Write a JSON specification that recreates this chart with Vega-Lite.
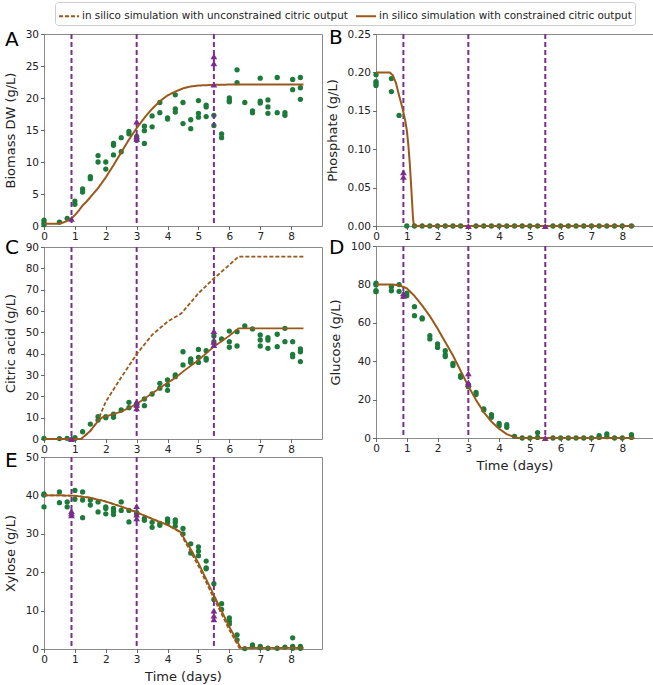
{
  "$schema": "https://vega.github.io/schema/vega-lite/v6.json",
  "autosize": {"type": "pad"},
  "padding": {"left": 3, "top": 1, "right": 0, "bottom": 0},
  "background": "white",
  "config": {
    "font": "DejaVu Sans",
    "view": {"stroke": "#8a8a8a", "strokeWidth": 1},
    "axis": {"domain": false, "grid": false, "tickColor": "#444", "tickSize": 3.5, "tickWidth": 0.8, "labelFont": "DejaVu Sans", "labelFontSize": 10.5, "labelColor": "#222", "labelPadding": 2, "labelOverlap": false, "titleFont": "DejaVu Sans", "titleFontSize": 13, "titleFontWeight": "normal", "titleColor": "#222", "labelFlush": false},
    "axisY": {"titlePadding": 8},
    "axisX": {"titlePadding": 5},
    "title": {"font": "DejaVu Sans", "fontSize": 20, "fontWeight": "normal", "color": "#000", "anchor": "start", "frame": "group", "offset": 0, "baseline": "alphabetic"}
  },
  "datasets": {
    "vl": [{"t": 0.89}, {"t": 3}, {"t": 5.5}],
    "tri": [
      {"p": "A", "t": 0.89, "v": 1.1}, {"p": "A", "t": 3, "v": 16.3}, {"p": "A", "t": 3, "v": 14.0}, {"p": "A", "t": 3, "v": 13.6}, {"p": "A", "t": 5.5, "v": 26.5}, {"p": "A", "t": 5.5, "v": 25.4}, {"p": "A", "t": 5.5, "v": 22.1},
      {"p": "B", "t": 0.89, "v": 0.070}, {"p": "B", "t": 0.89, "v": 0.064}, {"p": "B", "t": 3, "v": 0}, {"p": "B", "t": 5.5, "v": 0},
      {"p": "C", "t": 0.89, "v": 0.3}, {"p": "C", "t": 0.89, "v": 0}, {"p": "C", "t": 3, "v": 17.5}, {"p": "C", "t": 3, "v": 16.0}, {"p": "C", "t": 3, "v": 14.4}, {"p": "C", "t": 5.5, "v": 50.6}, {"p": "C", "t": 5.5, "v": 45.6}, {"p": "C", "t": 5.5, "v": 44.0},
      {"p": "D", "t": 0.89, "v": 75.3}, {"p": "D", "t": 0.89, "v": 74.1}, {"p": "D", "t": 3, "v": 33.7}, {"p": "D", "t": 3, "v": 29.0}, {"p": "D", "t": 3, "v": 28.1}, {"p": "D", "t": 5.5, "v": 0},
      {"p": "E", "t": 0.89, "v": 35.9}, {"p": "E", "t": 0.89, "v": 35.3}, {"p": "E", "t": 0.89, "v": 34.8}, {"p": "E", "t": 3, "v": 37.2}, {"p": "E", "t": 3, "v": 35.0}, {"p": "E", "t": 3, "v": 34.0}, {"p": "E", "t": 5.5, "v": 10.0}, {"p": "E", "t": 5.5, "v": 8.7}, {"p": "E", "t": 5.5, "v": 7.7}
    ],
    "sim": [
      {"p": "A", "s": "in silico simulation with constrained citric output", "t": 0, "v": 0.35},
      {"p": "A", "s": "in silico simulation with constrained citric output", "t": 0.45, "v": 0.35},
      {"p": "A", "s": "in silico simulation with constrained citric output", "t": 0.6, "v": 0.5},
      {"p": "A", "s": "in silico simulation with constrained citric output", "t": 0.75, "v": 0.8},
      {"p": "A", "s": "in silico simulation with constrained citric output", "t": 0.89, "v": 1.2},
      {"p": "A", "s": "in silico simulation with constrained citric output", "t": 1.0, "v": 1.7},
      {"p": "A", "s": "in silico simulation with constrained citric output", "t": 1.125, "v": 2.4},
      {"p": "A", "s": "in silico simulation with constrained citric output", "t": 1.25, "v": 3.2},
      {"p": "A", "s": "in silico simulation with constrained citric output", "t": 1.375, "v": 3.8},
      {"p": "A", "s": "in silico simulation with constrained citric output", "t": 1.5, "v": 4.5},
      {"p": "A", "s": "in silico simulation with constrained citric output", "t": 1.75, "v": 5.9},
      {"p": "A", "s": "in silico simulation with constrained citric output", "t": 2.0, "v": 7.6},
      {"p": "A", "s": "in silico simulation with constrained citric output", "t": 2.25, "v": 9.5},
      {"p": "A", "s": "in silico simulation with constrained citric output", "t": 2.5, "v": 11.5},
      {"p": "A", "s": "in silico simulation with constrained citric output", "t": 2.75, "v": 13.5},
      {"p": "A", "s": "in silico simulation with constrained citric output", "t": 3.0, "v": 15.3},
      {"p": "A", "s": "in silico simulation with constrained citric output", "t": 3.25, "v": 16.9},
      {"p": "A", "s": "in silico simulation with constrained citric output", "t": 3.5, "v": 18.3},
      {"p": "A", "s": "in silico simulation with constrained citric output", "t": 3.75, "v": 19.5},
      {"p": "A", "s": "in silico simulation with constrained citric output", "t": 4.0, "v": 20.4},
      {"p": "A", "s": "in silico simulation with constrained citric output", "t": 4.25, "v": 21.0},
      {"p": "A", "s": "in silico simulation with constrained citric output", "t": 4.5, "v": 21.5},
      {"p": "A", "s": "in silico simulation with constrained citric output", "t": 4.75, "v": 21.8},
      {"p": "A", "s": "in silico simulation with constrained citric output", "t": 5.0, "v": 21.95},
      {"p": "A", "s": "in silico simulation with constrained citric output", "t": 5.5, "v": 22.05},
      {"p": "A", "s": "in silico simulation with constrained citric output", "t": 6.0, "v": 22.1},
      {"p": "A", "s": "in silico simulation with constrained citric output", "t": 8.4, "v": 22.1},
      {"p": "B", "s": "in silico simulation with constrained citric output", "t": 0, "v": 0.2},
      {"p": "B", "s": "in silico simulation with constrained citric output", "t": 0.45, "v": 0.2},
      {"p": "B", "s": "in silico simulation with constrained citric output", "t": 0.55, "v": 0.196},
      {"p": "B", "s": "in silico simulation with constrained citric output", "t": 0.65, "v": 0.186},
      {"p": "B", "s": "in silico simulation with constrained citric output", "t": 0.75, "v": 0.17},
      {"p": "B", "s": "in silico simulation with constrained citric output", "t": 0.85, "v": 0.155},
      {"p": "B", "s": "in silico simulation with constrained citric output", "t": 0.95, "v": 0.137},
      {"p": "B", "s": "in silico simulation with constrained citric output", "t": 1.0, "v": 0.125},
      {"p": "B", "s": "in silico simulation with constrained citric output", "t": 1.05, "v": 0.106},
      {"p": "B", "s": "in silico simulation with constrained citric output", "t": 1.1, "v": 0.08},
      {"p": "B", "s": "in silico simulation with constrained citric output", "t": 1.15, "v": 0.047},
      {"p": "B", "s": "in silico simulation with constrained citric output", "t": 1.2, "v": 0.012},
      {"p": "B", "s": "in silico simulation with constrained citric output", "t": 1.23, "v": 0},
      {"p": "B", "s": "in silico simulation with constrained citric output", "t": 8.4, "v": 0},
      {"p": "C", "s": "in silico simulation with constrained citric output", "t": 0, "v": 0},
      {"p": "C", "s": "in silico simulation with constrained citric output", "t": 1.2, "v": 0},
      {"p": "C", "s": "in silico simulation with constrained citric output", "t": 1.5, "v": 3.8},
      {"p": "C", "s": "in silico simulation with constrained citric output", "t": 1.75, "v": 8.4},
      {"p": "C", "s": "in silico simulation with constrained citric output", "t": 1.9, "v": 10.3},
      {"p": "C", "s": "in silico simulation with constrained citric output", "t": 2.0, "v": 10.6},
      {"p": "C", "s": "in silico simulation with constrained citric output", "t": 2.5, "v": 12.8},
      {"p": "C", "s": "in silico simulation with constrained citric output", "t": 3.0, "v": 16.4},
      {"p": "C", "s": "in silico simulation with constrained citric output", "t": 3.5, "v": 21.4},
      {"p": "C", "s": "in silico simulation with constrained citric output", "t": 4.0, "v": 26.4},
      {"p": "C", "s": "in silico simulation with constrained citric output", "t": 4.25, "v": 28.6},
      {"p": "C", "s": "in silico simulation with constrained citric output", "t": 4.5, "v": 31.6},
      {"p": "C", "s": "in silico simulation with constrained citric output", "t": 5.0, "v": 37.0},
      {"p": "C", "s": "in silico simulation with constrained citric output", "t": 5.5, "v": 43.3},
      {"p": "C", "s": "in silico simulation with constrained citric output", "t": 6.0, "v": 48.4},
      {"p": "C", "s": "in silico simulation with constrained citric output", "t": 6.3, "v": 51.9},
      {"p": "C", "s": "in silico simulation with constrained citric output", "t": 8.4, "v": 51.9},
      {"p": "C", "s": "in silico simulation with unconstrained citric output", "t": 0, "v": 0},
      {"p": "C", "s": "in silico simulation with unconstrained citric output", "t": 1.2, "v": 0},
      {"p": "C", "s": "in silico simulation with unconstrained citric output", "t": 1.5, "v": 3.7},
      {"p": "C", "s": "in silico simulation with unconstrained citric output", "t": 1.75, "v": 8.9},
      {"p": "C", "s": "in silico simulation with unconstrained citric output", "t": 2.0, "v": 17.5},
      {"p": "C", "s": "in silico simulation with unconstrained citric output", "t": 2.5, "v": 28.9},
      {"p": "C", "s": "in silico simulation with unconstrained citric output", "t": 3.0, "v": 39.8},
      {"p": "C", "s": "in silico simulation with unconstrained citric output", "t": 3.5, "v": 48.8},
      {"p": "C", "s": "in silico simulation with unconstrained citric output", "t": 4.0, "v": 55.0},
      {"p": "C", "s": "in silico simulation with unconstrained citric output", "t": 4.45, "v": 58.9},
      {"p": "C", "s": "in silico simulation with unconstrained citric output", "t": 5.0, "v": 68.3},
      {"p": "C", "s": "in silico simulation with unconstrained citric output", "t": 5.5, "v": 75.3},
      {"p": "C", "s": "in silico simulation with unconstrained citric output", "t": 6.0, "v": 81.6},
      {"p": "C", "s": "in silico simulation with unconstrained citric output", "t": 6.3, "v": 85.5},
      {"p": "C", "s": "in silico simulation with unconstrained citric output", "t": 8.4, "v": 85.5},
      {"p": "D", "s": "in silico simulation with constrained citric output", "t": 0, "v": 80},
      {"p": "D", "s": "in silico simulation with constrained citric output", "t": 0.5, "v": 80},
      {"p": "D", "s": "in silico simulation with constrained citric output", "t": 0.75, "v": 79.5},
      {"p": "D", "s": "in silico simulation with constrained citric output", "t": 1.0, "v": 78},
      {"p": "D", "s": "in silico simulation with constrained citric output", "t": 1.25, "v": 74},
      {"p": "D", "s": "in silico simulation with constrained citric output", "t": 1.5, "v": 69},
      {"p": "D", "s": "in silico simulation with constrained citric output", "t": 1.75, "v": 63.5},
      {"p": "D", "s": "in silico simulation with constrained citric output", "t": 2.0, "v": 57},
      {"p": "D", "s": "in silico simulation with constrained citric output", "t": 2.25, "v": 50},
      {"p": "D", "s": "in silico simulation with constrained citric output", "t": 2.5, "v": 43},
      {"p": "D", "s": "in silico simulation with constrained citric output", "t": 2.75, "v": 35},
      {"p": "D", "s": "in silico simulation with constrained citric output", "t": 3.0, "v": 27},
      {"p": "D", "s": "in silico simulation with constrained citric output", "t": 3.25, "v": 19.8},
      {"p": "D", "s": "in silico simulation with constrained citric output", "t": 3.5, "v": 13.5},
      {"p": "D", "s": "in silico simulation with constrained citric output", "t": 3.75, "v": 8.5},
      {"p": "D", "s": "in silico simulation with constrained citric output", "t": 4.0, "v": 4.8},
      {"p": "D", "s": "in silico simulation with constrained citric output", "t": 4.25, "v": 2.0},
      {"p": "D", "s": "in silico simulation with constrained citric output", "t": 4.5, "v": 0.4},
      {"p": "D", "s": "in silico simulation with constrained citric output", "t": 4.6, "v": 0},
      {"p": "D", "s": "in silico simulation with constrained citric output", "t": 8.4, "v": 0},
      {"p": "E", "s": "in silico simulation with unconstrained citric output", "t": 0, "v": 40},
      {"p": "E", "s": "in silico simulation with unconstrained citric output", "t": 0.5, "v": 40},
      {"p": "E", "s": "in silico simulation with unconstrained citric output", "t": 1.0, "v": 39.9},
      {"p": "E", "s": "in silico simulation with unconstrained citric output", "t": 1.5, "v": 39.4},
      {"p": "E", "s": "in silico simulation with unconstrained citric output", "t": 2.0, "v": 38.4},
      {"p": "E", "s": "in silico simulation with unconstrained citric output", "t": 2.5, "v": 37.1},
      {"p": "E", "s": "in silico simulation with unconstrained citric output", "t": 3.0, "v": 35.6},
      {"p": "E", "s": "in silico simulation with unconstrained citric output", "t": 3.5, "v": 33.9},
      {"p": "E", "s": "in silico simulation with unconstrained citric output", "t": 4.0, "v": 32.3},
      {"p": "E", "s": "in silico simulation with unconstrained citric output", "t": 4.4, "v": 30.4},
      {"p": "E", "s": "in silico simulation with unconstrained citric output", "t": 4.75, "v": 25.3},
      {"p": "E", "s": "in silico simulation with unconstrained citric output", "t": 5.0, "v": 21.6},
      {"p": "E", "s": "in silico simulation with unconstrained citric output", "t": 5.5, "v": 13.2},
      {"p": "E", "s": "in silico simulation with unconstrained citric output", "t": 6.0, "v": 5.0},
      {"p": "E", "s": "in silico simulation with unconstrained citric output", "t": 6.32, "v": 0.3},
      {"p": "E", "s": "in silico simulation with unconstrained citric output", "t": 8.4, "v": 0.3},
      {"p": "E", "s": "in silico simulation with constrained citric output", "t": 0, "v": 40},
      {"p": "E", "s": "in silico simulation with constrained citric output", "t": 0.5, "v": 40},
      {"p": "E", "s": "in silico simulation with constrained citric output", "t": 1.0, "v": 39.9},
      {"p": "E", "s": "in silico simulation with constrained citric output", "t": 1.5, "v": 39.4},
      {"p": "E", "s": "in silico simulation with constrained citric output", "t": 2.0, "v": 38.4},
      {"p": "E", "s": "in silico simulation with constrained citric output", "t": 2.5, "v": 37.1},
      {"p": "E", "s": "in silico simulation with constrained citric output", "t": 3.0, "v": 35.6},
      {"p": "E", "s": "in silico simulation with constrained citric output", "t": 3.5, "v": 33.9},
      {"p": "E", "s": "in silico simulation with constrained citric output", "t": 4.0, "v": 32.3},
      {"p": "E", "s": "in silico simulation with constrained citric output", "t": 4.4, "v": 30.6},
      {"p": "E", "s": "in silico simulation with constrained citric output", "t": 4.75, "v": 26.0},
      {"p": "E", "s": "in silico simulation with constrained citric output", "t": 5.0, "v": 22.4},
      {"p": "E", "s": "in silico simulation with constrained citric output", "t": 5.5, "v": 14.0},
      {"p": "E", "s": "in silico simulation with constrained citric output", "t": 6.0, "v": 5.8},
      {"p": "E", "s": "in silico simulation with constrained citric output", "t": 6.37, "v": 0.3},
      {"p": "E", "s": "in silico simulation with constrained citric output", "t": 8.4, "v": 0.3}
    ],
    "pts": [
      {"p": "A", "t": 0, "v": 0.2}, {"p": "A", "t": 0, "v": 0.5}, {"p": "A", "t": 0, "v": 0.9}, {"p": "A", "t": 0.5, "v": 0.6}, {"p": "A", "t": 0.75, "v": 1.2},
      {"p": "A", "t": 1.0, "v": 3.9}, {"p": "A", "t": 1.0, "v": 3.4}, {"p": "A", "t": 1.25, "v": 5.8}, {"p": "A", "t": 1.25, "v": 5.3}, {"p": "A", "t": 1.5, "v": 7.7}, {"p": "A", "t": 1.5, "v": 7.4},
      {"p": "A", "t": 1.75, "v": 11.0}, {"p": "A", "t": 1.75, "v": 10.0}, {"p": "A", "t": 2.0, "v": 10.0}, {"p": "A", "t": 2.0, "v": 8.9}, {"p": "A", "t": 2.25, "v": 12.9}, {"p": "A", "t": 2.25, "v": 12.6}, {"p": "A", "t": 2.25, "v": 11.1},
      {"p": "A", "t": 2.5, "v": 13.8}, {"p": "A", "t": 2.5, "v": 11.6}, {"p": "A", "t": 2.75, "v": 14.8}, {"p": "A", "t": 2.75, "v": 14.4}, {"p": "A", "t": 3.0, "v": 14.0}, {"p": "A", "t": 3.0, "v": 13.4},
      {"p": "A", "t": 3.25, "v": 15.6}, {"p": "A", "t": 3.25, "v": 14.9}, {"p": "A", "t": 3.25, "v": 12.9}, {"p": "A", "t": 3.5, "v": 17.2}, {"p": "A", "t": 3.5, "v": 15.5}, {"p": "A", "t": 3.75, "v": 19.3}, {"p": "A", "t": 3.75, "v": 17.7},
      {"p": "A", "t": 4.0, "v": 16.9}, {"p": "A", "t": 4.0, "v": 16.7}, {"p": "A", "t": 4.25, "v": 20.5}, {"p": "A", "t": 4.25, "v": 18.3}, {"p": "A", "t": 4.25, "v": 17.8}, {"p": "A", "t": 4.5, "v": 19.3}, {"p": "A", "t": 4.5, "v": 16.0},
      {"p": "A", "t": 4.75, "v": 16.6}, {"p": "A", "t": 4.75, "v": 15.2}, {"p": "A", "t": 5.0, "v": 19.6}, {"p": "A", "t": 5.0, "v": 17.6}, {"p": "A", "t": 5.0, "v": 17.0}, {"p": "A", "t": 5.25, "v": 18.9}, {"p": "A", "t": 5.25, "v": 18.6}, {"p": "A", "t": 5.25, "v": 17.1},
      {"p": "A", "t": 5.5, "v": 17.3}, {"p": "A", "t": 5.5, "v": 15.7}, {"p": "A", "t": 5.75, "v": 14.4}, {"p": "A", "t": 5.75, "v": 13.8}, {"p": "A", "t": 6.0, "v": 20.0}, {"p": "A", "t": 6.0, "v": 19.6}, {"p": "A", "t": 6.0, "v": 19.4},
      {"p": "A", "t": 6.25, "v": 24.4}, {"p": "A", "t": 6.25, "v": 22.4}, {"p": "A", "t": 6.5, "v": 19.3}, {"p": "A", "t": 6.75, "v": 18.0}, {"p": "A", "t": 6.75, "v": 17.7}, {"p": "A", "t": 7.0, "v": 23.1}, {"p": "A", "t": 7.0, "v": 19.5}, {"p": "A", "t": 7.0, "v": 19.2},
      {"p": "A", "t": 7.25, "v": 19.7}, {"p": "A", "t": 7.25, "v": 18.6}, {"p": "A", "t": 7.25, "v": 17.6}, {"p": "A", "t": 7.55, "v": 23.2}, {"p": "A", "t": 7.55, "v": 17.7}, {"p": "A", "t": 7.8, "v": 17.7}, {"p": "A", "t": 7.8, "v": 17.3},
      {"p": "A", "t": 8.05, "v": 22.9}, {"p": "A", "t": 8.05, "v": 21.3}, {"p": "A", "t": 8.3, "v": 23.2}, {"p": "A", "t": 8.3, "v": 21.6}, {"p": "A", "t": 8.3, "v": 19.8},
      {"p": "B", "t": 0, "v": 0.197}, {"p": "B", "t": 0, "v": 0.188}, {"p": "B", "t": 0, "v": 0.186}, {"p": "B", "t": 0, "v": 0.183}, {"p": "B", "t": 0.5, "v": 0.192}, {"p": "B", "t": 0.5, "v": 0.175}, {"p": "B", "t": 0.75, "v": 0.144},
      {"p": "B", "t": 1.0, "v": 0}, {"p": "B", "t": 1.25, "v": 0}, {"p": "B", "t": 1.5, "v": 0}, {"p": "B", "t": 1.75, "v": 0}, {"p": "B", "t": 2.0, "v": 0}, {"p": "B", "t": 2.25, "v": 0}, {"p": "B", "t": 2.5, "v": 0}, {"p": "B", "t": 2.75, "v": 0},
      {"p": "B", "t": 3.25, "v": 0}, {"p": "B", "t": 3.5, "v": 0}, {"p": "B", "t": 3.75, "v": 0}, {"p": "B", "t": 4.0, "v": 0}, {"p": "B", "t": 4.25, "v": 0}, {"p": "B", "t": 4.5, "v": 0}, {"p": "B", "t": 4.75, "v": 0}, {"p": "B", "t": 5.0, "v": 0}, {"p": "B", "t": 5.25, "v": 0},
      {"p": "B", "t": 5.75, "v": 0}, {"p": "B", "t": 6.0, "v": 0}, {"p": "B", "t": 6.25, "v": 0}, {"p": "B", "t": 6.5, "v": 0}, {"p": "B", "t": 6.75, "v": 0}, {"p": "B", "t": 7.0, "v": 0}, {"p": "B", "t": 7.25, "v": 0}, {"p": "B", "t": 7.5, "v": 0}, {"p": "B", "t": 7.75, "v": 0}, {"p": "B", "t": 8.0, "v": 0}, {"p": "B", "t": 8.3, "v": 0},
      {"p": "C", "t": 0, "v": 0.3}, {"p": "C", "t": 0.5, "v": 0.2}, {"p": "C", "t": 0.75, "v": 0.3}, {"p": "C", "t": 1.0, "v": 0.6}, {"p": "C", "t": 1.0, "v": 0.2}, {"p": "C", "t": 1.25, "v": 3.4}, {"p": "C", "t": 1.5, "v": 7.0},
      {"p": "C", "t": 1.75, "v": 10.5}, {"p": "C", "t": 1.75, "v": 8.9}, {"p": "C", "t": 2.0, "v": 10.5}, {"p": "C", "t": 2.0, "v": 10.0}, {"p": "C", "t": 2.25, "v": 11.6}, {"p": "C", "t": 2.25, "v": 10.2}, {"p": "C", "t": 2.5, "v": 13.6},
      {"p": "C", "t": 2.75, "v": 17.2}, {"p": "C", "t": 2.75, "v": 14.7}, {"p": "C", "t": 3.0, "v": 16.3}, {"p": "C", "t": 3.0, "v": 15.6}, {"p": "C", "t": 3.25, "v": 18.8}, {"p": "C", "t": 3.25, "v": 15.6}, {"p": "C", "t": 3.5, "v": 21.1},
      {"p": "C", "t": 3.75, "v": 26.1}, {"p": "C", "t": 3.75, "v": 23.8}, {"p": "C", "t": 4.0, "v": 27.7}, {"p": "C", "t": 4.0, "v": 25.3}, {"p": "C", "t": 4.0, "v": 22.8}, {"p": "C", "t": 4.25, "v": 30.0}, {"p": "C", "t": 4.25, "v": 29.2},
      {"p": "C", "t": 4.5, "v": 40.9}, {"p": "C", "t": 4.5, "v": 34.7}, {"p": "C", "t": 4.75, "v": 37.5}, {"p": "C", "t": 4.75, "v": 36.6}, {"p": "C", "t": 4.75, "v": 35.9}, {"p": "C", "t": 5.0, "v": 42.0}, {"p": "C", "t": 5.0, "v": 38.3}, {"p": "C", "t": 5.0, "v": 35.9},
      {"p": "C", "t": 5.25, "v": 41.4}, {"p": "C", "t": 5.25, "v": 37.8}, {"p": "C", "t": 5.25, "v": 37.0}, {"p": "C", "t": 5.5, "v": 48.3}, {"p": "C", "t": 5.5, "v": 45.6}, {"p": "C", "t": 5.75, "v": 46.9},
      {"p": "C", "t": 6.0, "v": 50.6}, {"p": "C", "t": 6.0, "v": 45.6}, {"p": "C", "t": 6.0, "v": 43.0}, {"p": "C", "t": 6.25, "v": 50.3}, {"p": "C", "t": 6.25, "v": 43.6}, {"p": "C", "t": 6.5, "v": 53.0}, {"p": "C", "t": 6.75, "v": 51.6},
      {"p": "C", "t": 7.0, "v": 48.8}, {"p": "C", "t": 7.0, "v": 46.4}, {"p": "C", "t": 7.0, "v": 43.6}, {"p": "C", "t": 7.25, "v": 47.5}, {"p": "C", "t": 7.25, "v": 46.4}, {"p": "C", "t": 7.25, "v": 42.5}, {"p": "C", "t": 7.55, "v": 49.1}, {"p": "C", "t": 7.55, "v": 43.3},
      {"p": "C", "t": 7.8, "v": 51.9}, {"p": "C", "t": 7.8, "v": 45.6}, {"p": "C", "t": 8.05, "v": 45.6}, {"p": "C", "t": 8.05, "v": 39.7}, {"p": "C", "t": 8.05, "v": 38.6}, {"p": "C", "t": 8.3, "v": 42.2}, {"p": "C", "t": 8.3, "v": 40.9}, {"p": "C", "t": 8.3, "v": 36.3},
      {"p": "D", "t": 0, "v": 80.6}, {"p": "D", "t": 0, "v": 79.7}, {"p": "D", "t": 0, "v": 76.7}, {"p": "D", "t": 0, "v": 76.2}, {"p": "D", "t": 0.5, "v": 78.8}, {"p": "D", "t": 0.5, "v": 76.7}, {"p": "D", "t": 0.75, "v": 79.9}, {"p": "D", "t": 0.75, "v": 76.4},
      {"p": "D", "t": 1.0, "v": 75.5}, {"p": "D", "t": 1.0, "v": 74.1}, {"p": "D", "t": 1.25, "v": 68.4}, {"p": "D", "t": 1.25, "v": 63.7}, {"p": "D", "t": 1.5, "v": 62.5}, {"p": "D", "t": 1.5, "v": 62.0}, {"p": "D", "t": 1.75, "v": 53.3}, {"p": "D", "t": 1.75, "v": 51.6},
      {"p": "D", "t": 2.0, "v": 49.0}, {"p": "D", "t": 2.0, "v": 47.2}, {"p": "D", "t": 2.25, "v": 45.5}, {"p": "D", "t": 2.25, "v": 43.4}, {"p": "D", "t": 2.25, "v": 42.4}, {"p": "D", "t": 2.5, "v": 38.9}, {"p": "D", "t": 2.5, "v": 37.7},
      {"p": "D", "t": 2.75, "v": 32.5}, {"p": "D", "t": 2.75, "v": 31.6}, {"p": "D", "t": 3.0, "v": 27.8}, {"p": "D", "t": 3.0, "v": 26.7}, {"p": "D", "t": 3.25, "v": 23.8}, {"p": "D", "t": 3.25, "v": 22.6}, {"p": "D", "t": 3.5, "v": 15.1}, {"p": "D", "t": 3.5, "v": 14.6},
      {"p": "D", "t": 3.75, "v": 12.2}, {"p": "D", "t": 3.75, "v": 10.8}, {"p": "D", "t": 4.0, "v": 7.6}, {"p": "D", "t": 4.0, "v": 6.4}, {"p": "D", "t": 4.25, "v": 6.9}, {"p": "D", "t": 4.25, "v": 5.6}, {"p": "D", "t": 4.5, "v": 0.9},
      {"p": "D", "t": 4.75, "v": 0}, {"p": "D", "t": 5.0, "v": 0}, {"p": "D", "t": 5.25, "v": 2.8}, {"p": "D", "t": 5.25, "v": 0.3}, {"p": "D", "t": 5.75, "v": 0}, {"p": "D", "t": 6.0, "v": 0}, {"p": "D", "t": 6.25, "v": 0}, {"p": "D", "t": 6.5, "v": 0}, {"p": "D", "t": 6.75, "v": 0}, {"p": "D", "t": 7.0, "v": 0},
      {"p": "D", "t": 7.25, "v": 1.2}, {"p": "D", "t": 7.25, "v": 0.3}, {"p": "D", "t": 7.5, "v": 2.1}, {"p": "D", "t": 7.5, "v": 0.7}, {"p": "D", "t": 7.75, "v": 0}, {"p": "D", "t": 8.0, "v": 0}, {"p": "D", "t": 8.3, "v": 1.7}, {"p": "D", "t": 8.3, "v": 0.3},
      {"p": "E", "t": 0, "v": 40.4}, {"p": "E", "t": 0, "v": 40.1}, {"p": "E", "t": 0, "v": 37.0}, {"p": "E", "t": 0.5, "v": 40.9}, {"p": "E", "t": 0.5, "v": 38.1}, {"p": "E", "t": 0.75, "v": 38.3}, {"p": "E", "t": 0.75, "v": 37.0},
      {"p": "E", "t": 1.0, "v": 41.3}, {"p": "E", "t": 1.0, "v": 39.0}, {"p": "E", "t": 1.25, "v": 40.9}, {"p": "E", "t": 1.25, "v": 38.8}, {"p": "E", "t": 1.25, "v": 34.2}, {"p": "E", "t": 1.5, "v": 38.8}, {"p": "E", "t": 1.5, "v": 37.5},
      {"p": "E", "t": 1.75, "v": 38.3}, {"p": "E", "t": 1.75, "v": 35.7}, {"p": "E", "t": 2.0, "v": 37.0}, {"p": "E", "t": 2.0, "v": 36.6}, {"p": "E", "t": 2.0, "v": 35.2}, {"p": "E", "t": 2.25, "v": 36.6}, {"p": "E", "t": 2.25, "v": 35.9}, {"p": "E", "t": 2.25, "v": 35.0},
      {"p": "E", "t": 2.5, "v": 38.3}, {"p": "E", "t": 2.5, "v": 36.1}, {"p": "E", "t": 2.75, "v": 36.1}, {"p": "E", "t": 2.75, "v": 33.1}, {"p": "E", "t": 3.0, "v": 35.5}, {"p": "E", "t": 3.0, "v": 35.2}, {"p": "E", "t": 3.25, "v": 34.0}, {"p": "E", "t": 3.25, "v": 33.5},
      {"p": "E", "t": 3.5, "v": 33.0}, {"p": "E", "t": 3.5, "v": 31.7}, {"p": "E", "t": 3.75, "v": 32.7}, {"p": "E", "t": 3.75, "v": 32.2}, {"p": "E", "t": 4.0, "v": 33.9}, {"p": "E", "t": 4.0, "v": 33.5}, {"p": "E", "t": 4.0, "v": 32.9},
      {"p": "E", "t": 4.25, "v": 33.6}, {"p": "E", "t": 4.25, "v": 33.0}, {"p": "E", "t": 4.25, "v": 32.0}, {"p": "E", "t": 4.5, "v": 31.4}, {"p": "E", "t": 4.5, "v": 30.0}, {"p": "E", "t": 4.75, "v": 27.4}, {"p": "E", "t": 4.75, "v": 25.0},
      {"p": "E", "t": 5.0, "v": 26.6}, {"p": "E", "t": 5.0, "v": 25.5}, {"p": "E", "t": 5.0, "v": 24.3}, {"p": "E", "t": 5.25, "v": 22.9}, {"p": "E", "t": 5.25, "v": 21.1}, {"p": "E", "t": 5.25, "v": 20.9}, {"p": "E", "t": 5.5, "v": 17.0}, {"p": "E", "t": 5.5, "v": 12.9},
      {"p": "E", "t": 5.75, "v": 11.8}, {"p": "E", "t": 5.75, "v": 10.3}, {"p": "E", "t": 6.0, "v": 8.1}, {"p": "E", "t": 6.0, "v": 7.2}, {"p": "E", "t": 6.0, "v": 6.5}, {"p": "E", "t": 6.25, "v": 3.7}, {"p": "E", "t": 6.25, "v": 2.4}, {"p": "E", "t": 6.5, "v": 0.1},
      {"p": "E", "t": 6.75, "v": 1.1}, {"p": "E", "t": 6.75, "v": 0.7}, {"p": "E", "t": 7.0, "v": 0.7}, {"p": "E", "t": 7.0, "v": 0.3}, {"p": "E", "t": 7.25, "v": 0.2}, {"p": "E", "t": 7.55, "v": 0.2}, {"p": "E", "t": 7.8, "v": 0.5},
      {"p": "E", "t": 8.05, "v": 2.9}, {"p": "E", "t": 8.05, "v": 0.7}, {"p": "E", "t": 8.05, "v": 0.2}, {"p": "E", "t": 8.3, "v": 0.7}, {"p": "E", "t": 8.3, "v": 0.2}
    ]
  },
  "spacing": 2,
  "hconcat": [
    {
      "spacing": -6,
      "vconcat": [
        {
          "width": 278, "height": 192,
          "title": {"text": "A", "dx": -39, "dy": 25},
          "encoding": {"x": {"field": "t", "type": "quantitative", "scale": {"domain": [0, 9]}, "axis": {"values": [0, 1, 2, 3, 4, 5, 6, 7, 8], "title": null}}},
          "layer": [
            {"data": {"name": "pts"}, "transform": [{"filter": "datum.p == 'A'"}], "mark": {"type": "circle", "color": "#1c7a3a", "size": 28, "opacity": 1},
             "encoding": {"y": {"field": "v", "type": "quantitative", "scale": {"domain": [0, 30]}, "axis": {"values": [0, 5, 10, 15, 20, 25, 30], "title": "Biomass DW (g/L)"}}}},
            {"data": {"name": "vl"}, "mark": {"type": "rule", "color": "#7b2d8e", "strokeDash": [5, 3], "strokeWidth": 2}, "encoding": {}},
            {"data": {"name": "sim"}, "transform": [{"filter": "datum.p == 'A'"}], "mark": {"type": "line", "color": "#99591a", "strokeWidth": 2},
             "encoding": {"y": {"field": "v", "type": "quantitative", "scale": {"domain": [0, 30]}, "axis": {"values": [0, 5, 10, 15, 20, 25, 30], "title": "Biomass DW (g/L)"}},
                          "strokeDash": {"field": "s", "type": "nominal",
                            "scale": {"domain": ["in silico simulation with unconstrained citric output", "in silico simulation with constrained citric output"], "range": [[4, 2], [1, 0]]},
                            "legend": {"orient": "none", "legendX": 11, "legendY": -32, "direction": "horizontal", "title": null, "symbolType": "stroke", "symbolSize": 400, "symbolStrokeWidth": 2, "symbolStrokeColor": "#99591a", "labelFontSize": 10.4, "labelFont": "DejaVu Sans", "labelColor": "#222", "labelLimit": 400, "labelOffset": 2, "columnPadding": 4, "padding": 3, "strokeColor": "#cccccc", "fillColor": "white", "cornerRadius": 3}}}},
            {"data": {"name": "tri"}, "transform": [{"filter": "datum.p == 'A'"}], "mark": {"type": "point", "shape": "triangle-up", "filled": true, "color": "#7b2d8e", "size": 45, "opacity": 1},
             "encoding": {"y": {"field": "v", "type": "quantitative", "scale": {"domain": [0, 30]}, "axis": {"values": [0, 5, 10, 15, 20, 25, 30], "title": "Biomass DW (g/L)"}}}}
          ]
        },
        {
          "width": 278, "height": 192,
          "title": {"text": "C", "dx": -39, "dy": 20},
          "encoding": {"x": {"field": "t", "type": "quantitative", "scale": {"domain": [0, 9]}, "axis": {"values": [0, 1, 2, 3, 4, 5, 6, 7, 8], "title": null}}},
          "layer": [
            {"data": {"name": "pts"}, "transform": [{"filter": "datum.p == 'C'"}], "mark": {"type": "circle", "color": "#1c7a3a", "size": 28, "opacity": 1},
             "encoding": {"y": {"field": "v", "type": "quantitative", "scale": {"domain": [0, 90]}, "axis": {"values": [0, 10, 20, 30, 40, 50, 60, 70, 80, 90], "title": "Citric acid (g/L)"}}}},
            {"data": {"name": "vl"}, "mark": {"type": "rule", "color": "#7b2d8e", "strokeDash": [5, 3], "strokeWidth": 2}, "encoding": {}},
            {"data": {"name": "sim"}, "transform": [{"filter": "datum.p == 'C'"}], "mark": {"type": "line", "color": "#99591a", "strokeWidth": 1.8},
             "encoding": {"y": {"field": "v", "type": "quantitative", "scale": {"domain": [0, 90]}, "axis": {"values": [0, 10, 20, 30, 40, 50, 60, 70, 80, 90], "title": "Citric acid (g/L)"}},
                          "strokeDash": {"field": "s", "type": "nominal", "scale": {"domain": ["in silico simulation with unconstrained citric output", "in silico simulation with constrained citric output"], "range": [[4, 2], [1, 0]]}, "legend": null}}},
            {"data": {"name": "tri"}, "transform": [{"filter": "datum.p == 'C'"}], "mark": {"type": "point", "shape": "triangle-up", "filled": true, "color": "#7b2d8e", "size": 45, "opacity": 1},
             "encoding": {"y": {"field": "v", "type": "quantitative", "scale": {"domain": [0, 90]}, "axis": {"values": [0, 10, 20, 30, 40, 50, 60, 70, 80, 90], "title": "Citric acid (g/L)"}}}}
          ]
        },
        {
          "width": 278, "height": 192,
          "title": {"text": "E", "dx": -39, "dy": 23},
          "encoding": {"x": {"field": "t", "type": "quantitative", "scale": {"domain": [0, 9]}, "axis": {"values": [0, 1, 2, 3, 4, 5, 6, 7, 8], "title": "Time (days)"}}},
          "layer": [
            {"data": {"name": "pts"}, "transform": [{"filter": "datum.p == 'E'"}], "mark": {"type": "circle", "color": "#1c7a3a", "size": 28, "opacity": 1},
             "encoding": {"y": {"field": "v", "type": "quantitative", "scale": {"domain": [0, 50]}, "axis": {"values": [0, 10, 20, 30, 40, 50], "title": "Xylose (g/L)"}}}},
            {"data": {"name": "vl"}, "mark": {"type": "rule", "color": "#7b2d8e", "strokeDash": [5, 3], "strokeWidth": 2}, "encoding": {}},
            {"data": {"name": "sim"}, "transform": [{"filter": "datum.p == 'E'"}], "mark": {"type": "line", "color": "#99591a", "strokeWidth": 1.8},
             "encoding": {"y": {"field": "v", "type": "quantitative", "scale": {"domain": [0, 50]}, "axis": {"values": [0, 10, 20, 30, 40, 50], "title": "Xylose (g/L)"}},
                          "strokeDash": {"field": "s", "type": "nominal", "scale": {"domain": ["in silico simulation with unconstrained citric output", "in silico simulation with constrained citric output"], "range": [[4, 2], [1, 0]]}, "legend": null}}},
            {"data": {"name": "tri"}, "transform": [{"filter": "datum.p == 'E'"}], "mark": {"type": "point", "shape": "triangle-up", "filled": true, "color": "#7b2d8e", "size": 45, "opacity": 1},
             "encoding": {"y": {"field": "v", "type": "quantitative", "scale": {"domain": [0, 50]}, "axis": {"values": [0, 10, 20, 30, 40, 50], "title": "Xylose (g/L)"}}}}
          ]
        }
      ]
    },
    {
      "spacing": -6,
      "vconcat": [
        {
          "width": 277, "height": 192,
          "title": {"text": "B", "dx": -47, "dy": 23},
          "encoding": {"x": {"field": "t", "type": "quantitative", "scale": {"domain": [0, 9]}, "axis": {"values": [0, 1, 2, 3, 4, 5, 6, 7, 8], "title": null}}},
          "layer": [
            {"data": {"name": "pts"}, "transform": [{"filter": "datum.p == 'B'"}], "mark": {"type": "circle", "color": "#1c7a3a", "size": 28, "opacity": 1},
             "encoding": {"y": {"field": "v", "type": "quantitative", "scale": {"domain": [0, 0.25]}, "axis": {"values": [0, 0.05, 0.1, 0.15, 0.2, 0.25], "format": ".2f", "title": "Phosphate (g/L)"}}}},
            {"data": {"name": "vl"}, "mark": {"type": "rule", "color": "#7b2d8e", "strokeDash": [5, 3], "strokeWidth": 2}, "encoding": {}},
            {"data": {"name": "sim"}, "transform": [{"filter": "datum.p == 'B'"}], "mark": {"type": "line", "color": "#99591a", "strokeWidth": 2},
             "encoding": {"y": {"field": "v", "type": "quantitative", "scale": {"domain": [0, 0.25]}, "axis": {"values": [0, 0.05, 0.1, 0.15, 0.2, 0.25], "format": ".2f", "title": "Phosphate (g/L)"}},
                          "strokeDash": {"field": "s", "type": "nominal", "scale": {"domain": ["in silico simulation with unconstrained citric output", "in silico simulation with constrained citric output"], "range": [[4, 2], [1, 0]]}, "legend": null}}},
            {"data": {"name": "tri"}, "transform": [{"filter": "datum.p == 'B'"}], "mark": {"type": "point", "shape": "triangle-up", "filled": true, "color": "#7b2d8e", "size": 45, "opacity": 1},
             "encoding": {"y": {"field": "v", "type": "quantitative", "scale": {"domain": [0, 0.25]}, "axis": {"values": [0, 0.05, 0.1, 0.15, 0.2, 0.25], "format": ".2f", "title": "Phosphate (g/L)"}}}}
          ]
        },
        {
          "width": 277, "height": 192,
          "title": {"text": "D", "dx": -47, "dy": 21},
          "encoding": {"x": {"field": "t", "type": "quantitative", "scale": {"domain": [0, 9]}, "axis": {"values": [0, 1, 2, 3, 4, 5, 6, 7, 8], "title": "Time (days)"}}},
          "layer": [
            {"data": {"name": "pts"}, "transform": [{"filter": "datum.p == 'D'"}], "mark": {"type": "circle", "color": "#1c7a3a", "size": 28, "opacity": 1},
             "encoding": {"y": {"field": "v", "type": "quantitative", "scale": {"domain": [0, 100]}, "axis": {"values": [0, 20, 40, 60, 80, 100], "title": "Glucose (g/L)"}}}},
            {"data": {"name": "vl"}, "mark": {"type": "rule", "color": "#7b2d8e", "strokeDash": [5, 3], "strokeWidth": 2}, "encoding": {}},
            {"data": {"name": "sim"}, "transform": [{"filter": "datum.p == 'D'"}], "mark": {"type": "line", "color": "#99591a", "strokeWidth": 2},
             "encoding": {"y": {"field": "v", "type": "quantitative", "scale": {"domain": [0, 100]}, "axis": {"values": [0, 20, 40, 60, 80, 100], "title": "Glucose (g/L)"}},
                          "strokeDash": {"field": "s", "type": "nominal", "scale": {"domain": ["in silico simulation with unconstrained citric output", "in silico simulation with constrained citric output"], "range": [[4, 2], [1, 0]]}, "legend": null}}},
            {"data": {"name": "tri"}, "transform": [{"filter": "datum.p == 'D'"}], "mark": {"type": "point", "shape": "triangle-up", "filled": true, "color": "#7b2d8e", "size": 45, "opacity": 1},
             "encoding": {"y": {"field": "v", "type": "quantitative", "scale": {"domain": [0, 100]}, "axis": {"values": [0, 20, 40, 60, 80, 100], "title": "Glucose (g/L)"}}}}
          ]
        }
      ]
    }
  ]
}
